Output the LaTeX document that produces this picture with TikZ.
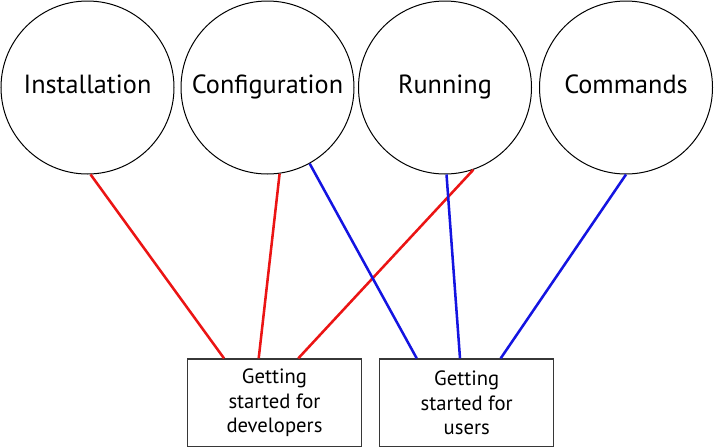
\documentclass[tikz,border=0pt]{standalone}
\usepackage{fontspec}
\setmainfont{PT Sans}
\usetikzlibrary{calc}
\definecolor{lred}{RGB}{235,20,20}
\definecolor{lblue}{RGB}{20,20,225}
\definecolor{boxgray}{RGB}{55,55,55}
\tikzset{
  topic/.style={circle,draw=black,line width=0.75pt,minimum size=173*0.75pt,inner sep=0pt,
    font=\fontsize{19.7}{22}\selectfont,text height=8.25pt,text depth=0pt},
  guide/.style={rectangle,draw=boxgray,line width=1.1pt,minimum width=174*0.75pt,minimum height=87.5*0.75pt,
    inner sep=0pt,align=center,font=\fontsize{15.5}{18.2}\selectfont},
  devlink/.style={draw=lred,line width=1.9pt},
  userlink/.style={draw=lblue,line width=1.9pt}
}
\begin{document}
\begin{tikzpicture}[x=0.75pt,y=-0.75pt]
\useasboundingbox (0,0) rectangle (714,447);
\node[topic] (inst) at (87.5,87.5) {Installation};
\node[topic] (conf) at (267.5,87.5) {Configuration};
\node[topic] (run) at (445,87.5) {Running};
\node[topic] (cmd) at (626,87.5) {Commands};
\node[guide] (dev) at (274.5,402.8) {Getting\\started for\\developers};
\node[guide] (usr) at (466.7,402.8) {Getting\\started for\\users};
\draw[devlink] (inst.-88) -- ($(dev.north)+(-50.5,0)$);
\draw[devlink] (conf.-82) -- ($(dev.north)+(-15.8,0)$);
\draw[devlink] (run.-71) -- ($(dev.north)+(23.8,0)$);
\draw[userlink] (conf.-61.5) -- ($(usr.north)+(-50,0)$);
\draw[userlink] (run.-89.5) -- ($(usr.north)+(-6.7,0)$);
\draw[userlink] (cmd.-90) -- ($(usr.north)+(34,0)$);
\end{tikzpicture}
\end{document}
